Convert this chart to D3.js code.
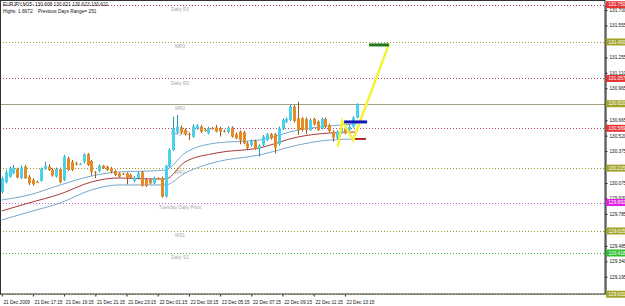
<!DOCTYPE html>
<html>
<head>
<meta charset="utf-8">
<script src="https://cdn.jsdelivr.net/npm/d3@7"></script>
<style>
  body { margin: 0; background: #fff; }
  svg { display: block; font-family: "Liberation Sans", Arial, sans-serif; }
  .tick text { font-size: 4.7px; fill: #111; }
  .tick line, .domain { stroke: #222; }
  .title { white-space: pre; }
</style>
</head>
<body>
<svg id="chart" width="625" height="306"></svg>
<script>
// bar data (M15 candles), prices
let barOpen = [129.994,130.082,130.135,130.166,130.207,130.120,130.229,130.135,130.104,130.085,130.094,130.207,130.229,130.198,130.135,130.207,130.104,130.307,130.276,130.260,130.251,130.276,130.348,130.282,130.176,130.188,130.238,130.229,130.213,130.188,130.166,130.162,130.166,130.151,130.094,130.120,130.176,130.104,130.104,130.073,130.122,130.120,129.950,130.229,130.386,130.558,130.598,130.573,130.533,130.511,130.589,130.605,130.574,130.542,130.590,130.598,130.589,130.565,130.551,130.595,130.533,130.558,130.551,130.448,130.433,130.470,130.401,130.433,130.479,130.533,130.533,130.439,130.583,130.652,130.667,130.792,130.683,130.683,130.677,130.573,130.677,130.652,130.589,130.677,130.620,130.558,130.501,130.542,130.589,130.573,130.605,130.689];
let barHigh = [130.135,130.198,130.229,130.245,130.220,130.238,130.245,130.151,130.120,130.095,130.220,130.276,130.251,130.213,130.220,130.220,130.339,130.323,130.292,130.276,130.262,130.354,130.357,130.292,130.188,130.251,130.245,130.238,130.226,130.201,130.176,130.170,130.176,130.163,130.138,130.182,130.188,130.120,130.120,130.135,130.130,130.135,130.245,130.401,130.699,130.714,130.614,130.589,130.551,130.627,130.627,130.620,130.589,130.602,130.602,130.620,130.602,130.577,130.608,130.608,130.551,130.570,130.564,130.464,130.483,130.483,130.439,130.526,130.545,130.545,130.545,130.605,130.683,130.689,130.808,130.808,130.839,130.695,130.689,130.683,130.689,130.664,130.689,130.689,130.633,130.570,130.570,130.595,130.602,130.620,130.702,130.824];
let barLow = [129.979,130.073,130.126,130.157,130.120,130.113,130.113,130.057,130.051,130.075,130.088,130.198,130.188,130.135,130.126,130.073,130.094,130.188,130.188,130.240,130.245,130.260,130.235,130.145,130.120,130.176,130.207,130.188,130.166,130.141,130.126,130.150,130.063,130.113,130.082,130.107,130.041,130.038,130.063,130.063,130.110,129.938,129.938,130.220,130.376,130.542,130.533,130.520,130.479,130.501,130.577,130.545,130.558,130.533,130.577,130.551,130.511,130.551,130.542,130.501,130.486,130.439,130.439,130.386,130.417,130.386,130.323,130.423,130.470,130.483,130.354,130.426,130.573,130.639,130.658,130.645,130.526,130.558,130.533,130.564,130.614,130.564,130.577,130.589,130.551,130.464,130.489,130.533,130.533,130.564,130.595,130.683];
let barClose = [130.120,130.176,130.213,130.220,130.126,130.220,130.120,130.073,130.063,130.080,130.207,130.235,130.198,130.145,130.207,130.082,130.323,130.198,130.198,130.250,130.254,130.345,130.245,130.182,130.170,130.238,130.213,130.198,130.182,130.151,130.135,130.158,130.126,130.126,130.126,130.166,130.051,130.051,130.073,130.120,130.118,129.947,130.238,130.386,130.589,130.605,130.551,130.533,130.527,130.605,130.614,130.558,130.572,130.589,130.588,130.558,130.558,130.563,130.595,130.511,130.495,130.479,130.448,130.407,130.470,130.395,130.426,130.511,130.533,130.495,130.407,130.589,130.667,130.677,130.792,130.658,130.573,130.573,130.573,130.667,130.627,130.573,130.677,130.605,130.564,130.501,130.558,130.583,130.542,130.605,130.689,130.814];

// moving average band, read at these bar indices
let maBars = [0, 7, 15, 23, 30, 38, 42, 47, 55, 66, 76, 84, 91];
let maMid = [129.813,129.888,129.972,130.085,130.123,130.113,130.113,130.273,130.357,130.404,130.508,130.545,130.554];
let maUp = [129.916,129.963,130.057,130.141,130.179,130.188,130.198,130.357,130.451,130.479,130.573,130.611,130.630];
let maLow = [129.728,129.803,129.888,130.010,130.057,130.057,130.057,130.169,130.273,130.338,130.432,130.479,130.489];

// pivot levels
let levelNames = ["Daily R3", "MR3", "Daily R2", "MR2", "Daily R1", "MR1", "Tuesday Daily Pivot", "MS1", "Daily S1", "MS2"];
let levelValues = [131.750, 131.400, 131.057, 130.820, 130.589, 130.215, 129.892, 129.625, 129.418, 129.031];
let levelKinds = ["daily", "month", "daily", "monthSolid", "daily", "month", "pivot", "month", "support", "month"];

// zigzag projection and target bars
let zigBars = [86.2, 87.3, 90.1, 99.3];
let zigPrices = [130.414, 130.658, 130.479, 131.381];
let targetFrom = [94.2, 87.8, 90.6];
let targetTo = [99.3, 93.7, 93.4];
let targetPrice = [131.372, 130.649, 130.489];

// axis labels
let priceTicks = [131.700, 131.555, 131.255, 131.110, 130.965, 130.665, 130.520, 130.375, 130.075, 129.930, 129.785, 129.485, 129.340, 129.195];
let timeBars = [0, 8, 16, 24, 32, 40, 48, 56, 64, 72, 80, 88];
let timeLabels = ["21 Dec 2009", "21 Dec 17:15", "21 Dec 19:15", "21 Dec 21:15", "21 Dec 23:15", "22 Dec 01:15", "22 Dec 03:15", "22 Dec 05:15", "22 Dec 07:15", "22 Dec 09:15", "22 Dec 11:15", "22 Dec 13:15"];

let plotRight = 605, plotBottom = 294;

let svg = d3.select("#chart");

let x = d3.scaleLinear()
	.domain([0, 91])
	.range([1.7, 356.6]);

let y = d3.scaleLinear()
	.domain([129.031, 131.750])
	.range([294.2, 4.7]);

let lineStyle = {
	"daily": {color: "#b8406a", dash: "1,2", box: "#e53535"},
	"month": {color: "#9a9a2a", dash: "1,2", box: "#a3a32a"},
	"monthSolid": {color: "#a4a07e", dash: null, box: "#a3a32a"},
	"pivot": {color: "#d050d0", dash: "1,2", box: "#e020e0"},
	"support": {color: "#40b840", dash: "1,2", box: "#30c030"}
};

let plot = svg.append("g");

// level lines; a label that would fall under the plot is not shown (as in MT4)
levelValues.forEach(function (v, i) {
	let st = lineStyle[levelKinds[i]];
	plot.append("line")
		.attr("x1", 0).attr("x2", plotRight)
		.attr("y1", Math.round(y(v)) + 0.5).attr("y2", Math.round(y(v)) + 0.5)
		.attr("stroke", st.color)
		.attr("stroke-width", 1)
		.attr("stroke-dasharray", st.dash);
	if (y(v) + 6.3 < plotBottom) {
		plot.append("text")
			.attr("x", 180)
			.attr("y", y(v) + 6.3)
			.attr("text-anchor", "middle")
			.attr("font-size", "4.8px")
			.attr("fill", "#a8a8a8")
			.text(levelNames[i]);
	}
});

// MA band
let maLine = function (vals) {
	return d3.line()
		.x(function (d, i) { return x(maBars[i]); })
		.y(function (d) { return y(d); })
		.curve(d3.curveMonotoneX)(vals);
};
plot.append("path").attr("d", maLine(maUp)).attr("fill", "none").attr("stroke", "#78a8cc").attr("stroke-width", 1);
plot.append("path").attr("d", maLine(maLow)).attr("fill", "none").attr("stroke", "#78a8cc").attr("stroke-width", 1);
plot.append("path").attr("d", maLine(maMid)).attr("fill", "none").attr("stroke", "#a83838").attr("stroke-width", 1);

// candles
let idx = d3.range(barOpen.length);
let candle = plot.selectAll(".candle")
	.data(idx)
	.enter().append("g")
	.attr("class", "candle");

candle.append("line")
	.attr("x1", function (i) { return Math.round(x(i)) + 0.5; })
	.attr("x2", function (i) { return Math.round(x(i)) + 0.5; })
	.attr("y1", function (i) { return y(barHigh[i]); })
	.attr("y2", function (i) { return y(barLow[i]); })
	.attr("stroke", function (i) { return barClose[i] >= barOpen[i] ? "#2f8fb5" : "#9a5a28"; })
	.attr("stroke-width", 1);

candle.append("rect")
	.attr("x", function (i) { return Math.round(x(i)) - 1; })
	.attr("width", 3)
	.attr("y", function (i) { return y(Math.max(barOpen[i], barClose[i])); })
	.attr("height", function (i) { return Math.max(1, Math.abs(y(barOpen[i]) - y(barClose[i]))); })
	.attr("fill", function (i) { return barClose[i] >= barOpen[i] ? "#48d2ec" : "#e68a24"; });

// zigzag
plot.append("path")
	.datum(zigBars)
	.attr("d", d3.line()
		.x(function (d) { return x(d); })
		.y(function (d, i) { return y(zigPrices[i]); }))
	.attr("fill", "none")
	.attr("stroke", "#f4f43a")
	.attr("stroke-width", 2.5);

// target bars
let targetColor = ["#1e7a1e", "#1414c0", "#b02828"];
targetPrice.forEach(function (p, i) {
	plot.append("line")
		.attr("x1", x(targetFrom[i])).attr("x2", x(targetTo[i]))
		.attr("y1", y(p)).attr("y2", y(p))
		.attr("stroke", targetColor[i])
		.attr("stroke-width", i === 2 ? 2 : 3);
});

// frame
svg.append("rect")
	.attr("x", 0.5).attr("y", 0.5)
	.attr("width", plotRight - 0.5).attr("height", plotBottom - 0.5)
	.attr("fill", "none")
	.attr("stroke", "#333");

// price axis
let yAxis = svg.append("g")
	.attr("transform", "translate(" + (plotRight + 0.5) + ",0)")
	.call(d3.axisRight(y).tickValues(priceTicks).tickSize(2).tickPadding(2).tickFormat(d3.format(".3f")));

// level boxes on the price axis
levelValues.forEach(function (v, i) {
	let st = lineStyle[levelKinds[i]];
	let g = svg.append("g").attr("transform", "translate(" + (plotRight + 1) + "," + y(v) + ")");
	g.append("rect")
		.attr("x", 0).attr("y", -3.5)
		.attr("width", 19).attr("height", 7)
		.attr("fill", st.box);
	g.append("text")
		.attr("x", 2.5).attr("y", 1.7)
		.attr("font-size", "4.7px")
		.attr("fill", "#fff")
		.text(d3.format(".3f")(v));
});

// time axis
let xAxis = svg.append("g")
	.attr("transform", "translate(0," + (plotBottom + 0.5) + ")")
	.call(d3.axisBottom(x).tickValues(timeBars).tickSize(2).tickFormat(function (d, i) { return timeLabels[i]; }));
xAxis.select(".domain").remove();
xAxis.selectAll(".tick text")
	.attr("text-anchor", "start")
	.attr("font-size", "4.3px")
	.attr("x", 1.2)
	.attr("y", 6);

// title
svg.append("text")
	.attr("class", "title")
	.attr("x", 3).attr("y", 6)
	.attr("font-size", "4.8px")
	.attr("fill", "#111")
	.text("EURJPY,M15- 130.608 130.621 130.623 130.621");
svg.append("text")
	.attr("class", "title")
	.attr("x", 3).attr("y", 12.5)
	.attr("font-size", "4.8px")
	.attr("fill", "#111")
	.text("Highs: 1.6672    Previous Days Range= 251");
</script>
</body>
</html>
